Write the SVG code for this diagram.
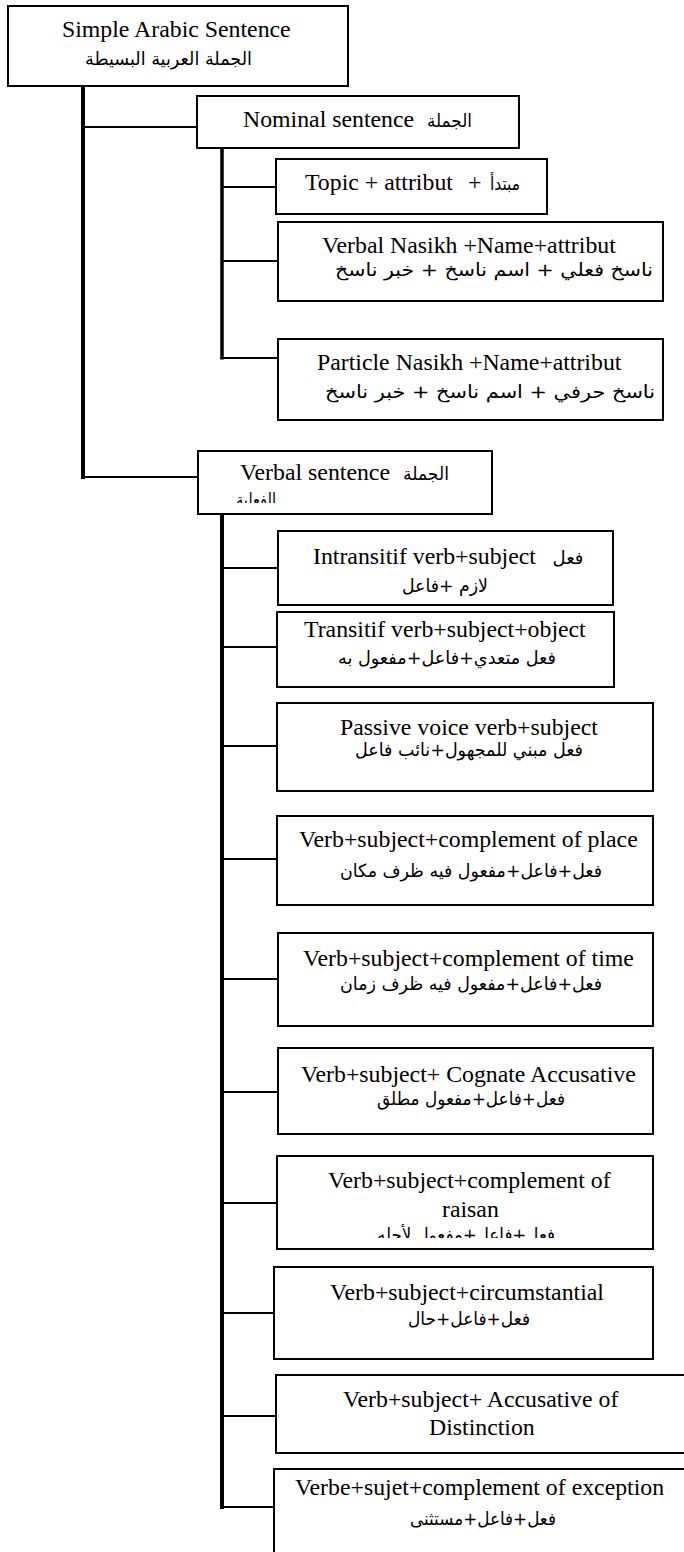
<svg xmlns="http://www.w3.org/2000/svg" width="684" height="1552" viewBox="0 0 684 1552">
  <style>
    .box { fill: #fff; stroke: #000; stroke-width: 2; }
    .en { font-family: "Liberation Serif", "Times New Roman", serif; font-size: 23.8px; fill: #000; }
    .ar { font-family: "DejaVu Sans", "Noto Sans", sans-serif; font-size: 18px; fill: #000; text-anchor: middle; direction: rtl; }
    .ln { stroke: #000; stroke-width: 2; fill: none; }
    .trunk { stroke: #000; stroke-width: 4; fill: none; }
    .sub { stroke: #000; stroke-width: 3.5; fill: none; }
  </style>
  <defs>
    <clipPath id="clipVerbal"><rect x="198" y="451" width="294" height="52"/></clipPath>
    <clipPath id="clipRaisan"><rect x="277" y="1156" width="376" height="82"/></clipPath>
  </defs>
  <rect width="684" height="1552" fill="#fff"/>

  <!-- tree connectors -->
  <g id="connectors">
    <!-- main trunk from the root -->
    <line class="trunk" x1="83" y1="86" x2="83" y2="479"/>
    <line class="ln" x1="83" y1="127" x2="197" y2="127"/>
    <line class="ln" x1="81" y1="477" x2="198" y2="477"/>
    <!-- nominal branch -->
    <line class="sub" x1="222" y1="148" x2="222" y2="359.5"/>
    <line class="ln" x1="222" y1="187" x2="276" y2="187"/>
    <line class="ln" x1="222" y1="261" x2="278" y2="261"/>
    <line class="ln" x1="220.5" y1="358" x2="278" y2="358"/>
    <!-- verbal branch -->
    <line class="trunk" x1="222" y1="514" x2="222" y2="1509"/>
    <line class="ln" x1="222" y1="568" x2="278" y2="568"/>
    <line class="ln" x1="222" y1="647" x2="277" y2="647"/>
    <line class="ln" x1="222" y1="746" x2="277" y2="746"/>
    <line class="ln" x1="222" y1="859" x2="277" y2="859"/>
    <line class="ln" x1="222" y1="979" x2="278" y2="979"/>
    <line class="ln" x1="222" y1="1092" x2="278" y2="1092"/>
    <line class="ln" x1="222" y1="1203" x2="277" y2="1203"/>
    <line class="ln" x1="222" y1="1313" x2="274" y2="1313"/>
    <line class="ln" x1="222" y1="1416" x2="276" y2="1416"/>
    <line class="ln" x1="220" y1="1507" x2="274" y2="1507"/>
  </g>

  <g id="root">
    <rect class="box" x="8" y="6" width="340" height="80"/>
    <text class="en" x="62" y="37">Simple Arabic Sentence</text>
    <text class="ar" x="168.5" y="65" textLength="167" lengthAdjust="spacingAndGlyphs">الجملة  العربية البسيطة</text>
  </g>

  <g id="nominal">
    <rect class="box" x="197" y="96" width="322" height="52"/>
    <text class="en" x="243" y="127">Nominal sentence</text>
    <text class="ar" x="449.5" y="127" textLength="45" lengthAdjust="spacingAndGlyphs">الجملة</text>
  </g>

  <g id="topic">
    <rect class="box" x="276" y="159" width="271" height="55"/>
    <text class="en" x="305" y="190">Topic + attribut</text>
    <text class="en" x="468" y="190">+</text>
    <text class="ar" x="505" y="190" textLength="30" lengthAdjust="spacingAndGlyphs">مبتدأ</text>
  </g>

  <g id="verbal-nasikh">
    <rect class="box" x="278" y="222" width="385" height="79"/>
    <text class="en" x="322" y="253">Verbal Nasikh +Name+attribut</text>
    <text class="ar" x="494" y="276" textLength="318" lengthAdjust="spacingAndGlyphs">ناسخ فعلي + اسم ناسخ + خبر ناسخ</text>
  </g>

  <g id="particle-nasikh">
    <rect class="box" x="278" y="339" width="385" height="81"/>
    <text class="en" x="317" y="370">Particle Nasikh +Name+attribut</text>
    <text class="ar" x="490" y="398" textLength="330" lengthAdjust="spacingAndGlyphs">ناسخ حرفي + اسم ناسخ + خبر ناسخ</text>
  </g>

  <g id="verbal">
    <rect class="box" x="198" y="451" width="294" height="63"/>
    <text class="en" x="240" y="480">Verbal sentence</text>
    <text class="ar" x="426" y="480" textLength="46" lengthAdjust="spacingAndGlyphs">الجملة</text>
    <text class="ar" x="256" y="506" textLength="40" lengthAdjust="spacingAndGlyphs" clip-path="url(#clipVerbal)">الفعلية</text>
  </g>

  <g id="intransitive">
    <rect class="box" x="278" y="531" width="335" height="74"/>
    <text class="en" x="313" y="564">Intransitif verb+subject</text>
    <text class="ar" x="568" y="564">فعل</text>
    <text class="ar" x="445" y="592" textLength="86" lengthAdjust="spacingAndGlyphs">لازم +فاعل</text>
  </g>

  <g id="transitive">
    <rect class="box" x="277" y="612" width="337" height="75"/>
    <text class="en" x="304" y="637">Transitif verb+subject+object</text>
    <text class="ar" x="447" y="664" textLength="218" lengthAdjust="spacingAndGlyphs">فعل متعدي+فاعل+مفعول به</text>
  </g>

  <g id="passive">
    <rect class="box" x="277" y="703" width="376" height="88"/>
    <text class="en" x="340" y="735">Passive voice verb+subject</text>
    <text class="ar" x="469" y="756" textLength="228" lengthAdjust="spacingAndGlyphs">فعل مبني للمجهول+نائب فاعل</text>
  </g>

  <g id="place">
    <rect class="box" x="277" y="816" width="376" height="89"/>
    <text class="en" x="299" y="847">Verb+subject+complement of place</text>
    <text class="ar" x="471" y="877" textLength="262" lengthAdjust="spacingAndGlyphs">فعل+فاعل+مفعول فيه ظرف مكان</text>
  </g>

  <g id="time">
    <rect class="box" x="278" y="933" width="375" height="93"/>
    <text class="en" x="303" y="966">Verb+subject+complement of time</text>
    <text class="ar" x="471" y="990" textLength="262" lengthAdjust="spacingAndGlyphs">فعل+فاعل+مفعول فيه ظرف زمان</text>
  </g>

  <g id="cognate">
    <rect class="box" x="278" y="1048" width="375" height="86"/>
    <text class="en" x="301" y="1082">Verb+subject+ Cognate Accusative</text>
    <text class="ar" x="471" y="1105" textLength="188" lengthAdjust="spacingAndGlyphs">فعل+فاعل+مفعول مطلق</text>
  </g>

  <g id="reason">
    <rect class="box" x="277" y="1156" width="376" height="93"/>
    <text class="en" x="328" y="1188">Verb+subject+complement of</text>
    <text class="en" x="442" y="1217">raisan</text>
    <text class="ar" x="466" y="1241" textLength="178" lengthAdjust="spacingAndGlyphs" clip-path="url(#clipRaisan)">فعل+فاعل+مفعول لأجله</text>
  </g>

  <g id="circumstantial">
    <rect class="box" x="274" y="1267" width="379" height="92"/>
    <text class="en" x="330" y="1300">Verb+subject+circumstantial</text>
    <text class="ar" x="469" y="1325" textLength="122" lengthAdjust="spacingAndGlyphs">فعل+فاعل+حال</text>
  </g>

  <g id="distinction">
    <rect class="box" x="276" y="1375" width="412" height="78"/>
    <text class="en" x="343" y="1407">Verb+subject+ Accusative of</text>
    <text class="en" x="429" y="1435">Distinction</text>
  </g>

  <g id="exception">
    <rect class="box" x="274" y="1469" width="414" height="95"/>
    <text class="en" x="295" y="1495">Verbe+sujet+complement of exception</text>
    <text class="ar" x="483" y="1525" textLength="146" lengthAdjust="spacingAndGlyphs">فعل+فاعل+مستثنى</text>
  </g>
</svg>
